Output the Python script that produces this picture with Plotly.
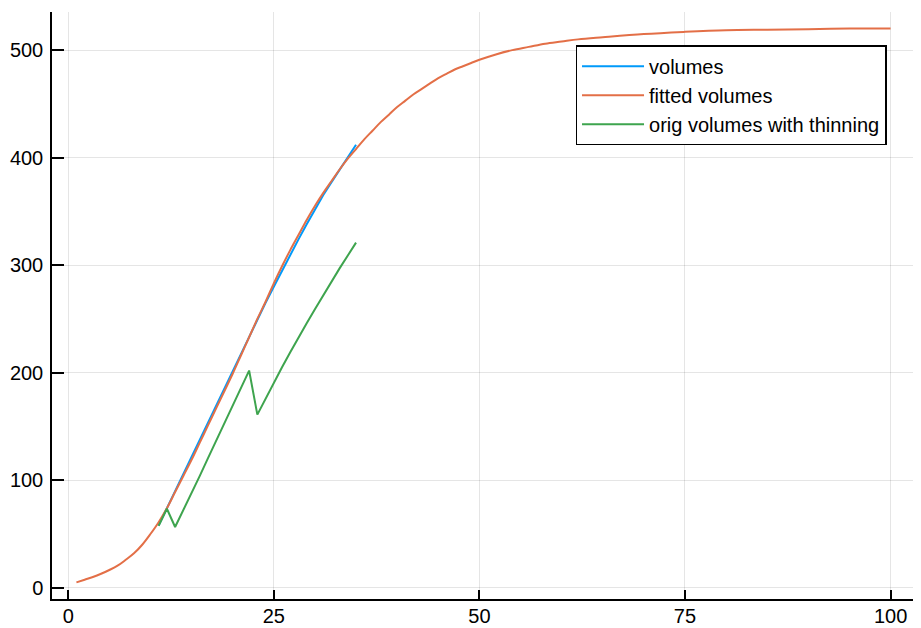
import plotly.graph_objects as go

# ---- data ----
vol_x = list(range(11, 36))
vol_y = [58, 74, 90, 106, 122, 138, 154, 170, 186, 202, 218, 234, 250, 265,
         280, 295, 310, 324, 338, 352, 365, 377, 389, 401, 412]

fit_x = [1, 2, 3, 4, 5, 6, 7, 8, 9, 10, 11, 12, 13, 14, 15, 16, 17, 18, 19, 20,
         21, 22, 23, 24, 25, 26, 27, 28, 29, 30, 31, 32, 33, 34, 35, 36, 37, 38,
         39, 40, 41, 42, 43, 44, 45, 46, 47, 48, 49, 50, 52, 54, 56, 58, 60, 62,
         65, 70, 75, 80, 85, 90, 95, 100]
fit_y = [5, 7.5, 10, 13, 16.5, 20.5, 26, 32, 40, 50, 61, 74, 89, 104, 119, 135,
         151, 167, 183, 199, 216, 233, 250, 266, 283, 299, 314, 328, 342, 355,
         367, 378, 389, 399, 408, 417, 425, 433, 440, 447, 453, 459, 464, 469,
         474, 478, 482, 485, 488, 491, 496, 500, 503, 506, 508, 510, 512, 515,
         517, 518.5, 519, 519.5, 520, 520]

thin_x = list(range(11, 36))
thin_y = [57.5, 73.5, 56.5, 72, 88, 104, 120.5, 137, 153.5, 170, 186, 202, 161,
          176, 191, 205, 219, 233, 246, 259, 272, 285, 297, 309, 321]

x_ticks = [0, 25, 50, 75, 100]
y_ticks = [0, 100, 200, 300, 400, 500]

# ---- figure ----
fig = go.Figure()
fig.add_trace(go.Scatter(x=vol_x, y=vol_y, mode="lines", name="volumes",
                         line=dict(color="rgb(0,154,250)", width=2)))
fig.add_trace(go.Scatter(x=fit_x, y=fit_y, mode="lines", name="fitted volumes",
                         line=dict(color="rgb(227,111,71)", width=2, shape="spline")))
fig.add_trace(go.Scatter(x=thin_x, y=thin_y, mode="lines",
                         name="orig volumes with thinning",
                         line=dict(color="rgb(62,164,78)", width=2)))

font = "Liberation Sans, Arial, Helvetica, sans-serif"
axis_common = dict(
    showgrid=True, gridcolor="rgba(0,0,0,0.1)", gridwidth=1.2,
    zeroline=False, showline=True, linecolor="black", linewidth=1.5,
    ticks="inside", tickcolor="black", tickwidth=1.5, automargin=False,
    tickfont=dict(family=font, size=20, color="black"), mirror=False,
)

# the page adds an 8px body margin, so the figure is 8px smaller and shifted
fig.update_layout(
    width=913, height=620,
    margin=dict(l=44, r=5.5, t=3.8, b=29),
    paper_bgcolor="white", plot_bgcolor="white",
    showlegend=True,
    legend=dict(x=0.967, y=0.9435, xanchor="right", yanchor="top",
                bgcolor="white", bordercolor="black", borderwidth=1.5,
                font=dict(family=font, size=20, color="black"),
                itemwidth=62, tracegroupgap=0),
    xaxis=dict(range=[-1.97, 102.97], tickvals=x_ticks, ticklen=9,
               ticklabelstandoff=-2, **axis_common),
    yaxis=dict(range=[-10.45, 535.45], tickvals=y_ticks, ticklen=12,
               ticklabelstandoff=3, **axis_common),
)

fig.write_html("out.html")
